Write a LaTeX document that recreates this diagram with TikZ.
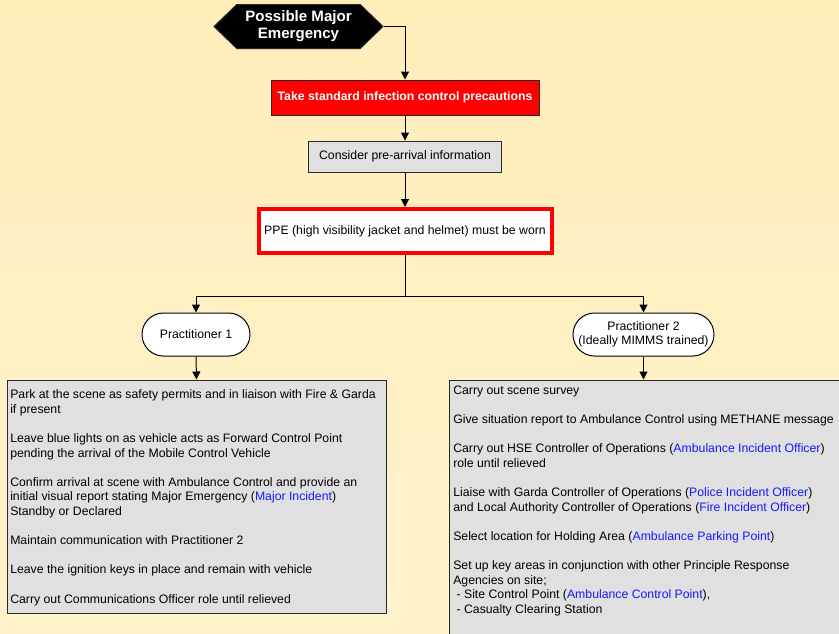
\documentclass[tikz,border=0pt]{standalone}
\usepackage{fontspec}
\setmainfont{Liberation Sans}
\usetikzlibrary{shapes.symbols,shapes.misc,arrows.meta}
\definecolor{bgtop}{RGB}{255,237,186}
\definecolor{bgbot}{RGB}{255,243,204}
\definecolor{boxgrey}{RGB}{224,224,224}
\definecolor{edgecol}{RGB}{40,40,40}
\definecolor{linkblue}{RGB}{25,25,255}
\newcommand{\lk}[1]{\textcolor{linkblue}{#1}}
\tikzset{
  body/.style={font=\fontsize{9.2}{10.95}\selectfont},
  arr/.style={draw=black,line width=0.75pt,-{Triangle[width=6pt,length=6pt]}},
  conn/.style={draw=black,line width=0.75pt},
  hexbox/.style={signal,signal to=west and east,signal from=nowhere,signal pointer angle=88,
    fill=black,draw=edgecol,line width=0.75pt,text=white,align=center,inner sep=0pt,
    font=\fontsize{11.3}{12.75}\selectfont\bfseries},
  redbox/.style={rectangle,fill=red,draw=edgecol,line width=0.75pt,text=white,
    font=\fontsize{9.2}{11}\selectfont\bfseries,inner sep=0pt},
  greybox/.style={rectangle,fill=boxgrey,draw=edgecol,line width=0.75pt,body,inner sep=0pt},
  ppebox/.style={rectangle,fill=white,draw=red,line width=3pt,body,inner sep=0pt},
  pill/.style={rounded rectangle,fill=white,draw=black,line width=0.75pt,body,align=center,inner sep=0pt},
  listbox/.style={rectangle,fill=boxgrey,draw=edgecol,line width=0.75pt,inner sep=0pt},
  listtext/.style={body,align=left,inner sep=0pt,anchor=north west}
}
\begin{document}
\begin{tikzpicture}[x=0.75pt,y=-0.75pt]
\fill[top color=bgtop,bottom color=bgbot] (0,0) rectangle (839,633);
\useasboundingbox (0,0) rectangle (839,633);
\clip (0,0) rectangle (839,633);

\node[hexbox,minimum width=126.75pt,minimum height=33pt] (hex) at (298.5,26.5) {Possible Major\\Emergency};
\node[redbox,minimum width=201pt,minimum height=26.25pt] (red) at (405,97.5) {Take standard infection control precautions};
\node[greybox,minimum width=144.75pt,minimum height=23.25pt] (grey) at (405,156.5) {Consider pre-arrival information};
\node[ppebox,minimum width=219.75pt,minimum height=33pt] (ppe) at (405,231) {PPE (high visibility jacket and helmet) must be worn};
\coordinate (split) at (405,296);
\node[pill,minimum width=81pt,minimum height=32.25pt] (p1) at (196,334.5) {Practitioner 1};
\node[pill,minimum width=105.75pt,minimum height=32.25pt] (p2) at (643.5,334.5) {Practitioner 2\\(Ideally MIMMS trained)};
\node[listbox,minimum width=284.25pt,minimum height=174.75pt] (b1) at (196.5,496.5) {};
\node[listbox,minimum width=300.75pt,minimum height=198.75pt] (b2) at (649.5,512.5) {};

\node[listtext] (t1) at (10,389.5) {Park at the scene as safety permits and in liaison with Fire \& Garda\\
if present\\[10.95pt]
Leave blue lights on as vehicle acts as Forward Control Point\\
pending the arrival of the Mobile Control Vehicle\\[10.95pt]
Confirm arrival at scene with Ambulance Control and provide an\\
initial visual report stating Major Emergency (\lk{Major Incident})\\
Standby or Declared\\[10.95pt]
Maintain communication with Practitioner 2\\[10.95pt]
Leave the ignition keys in place and remain with vehicle\\[10.95pt]
Carry out Communications Officer role until relieved};

\node[listtext] (t2) at (453,385.5) {Carry out scene survey\\[10.95pt]
Give situation report to Ambulance Control using METHANE message\\[10.95pt]
Carry out HSE Controller of Operations (\lk{Ambulance Incident Officer})\\
role until relieved\\[10.95pt]
Liaise with Garda Controller of Operations (\lk{Police Incident Officer})\\
and Local Authority Controller of Operations (\lk{Fire Incident Officer})\\[10.95pt]
Select location for Holding Area (\lk{Ambulance Parking Point})\\[10.95pt]
Set up key areas in conjunction with other Principle Response\\
Agencies on site;\\
\hspace*{2.5pt}- Site Control Point (\lk{Ambulance Control Point}),\\
\hspace*{2.5pt}- Casualty Clearing Station};

\draw[arr] (hex.east) -| (red.north);
\draw[arr] (red.south) -- (grey.north);
\draw[arr] (grey.south) -- (ppe.north);
\draw[conn] (ppe.south) -- (split);
\draw[arr] (split) -| (p1.north);
\draw[arr] (split) -| (p2.north);
\draw[arr] (p1.south) -- (b1.north);
\draw[arr] (p2.south) -- (p2.south |- b2.north);
\end{tikzpicture}
\end{document}
